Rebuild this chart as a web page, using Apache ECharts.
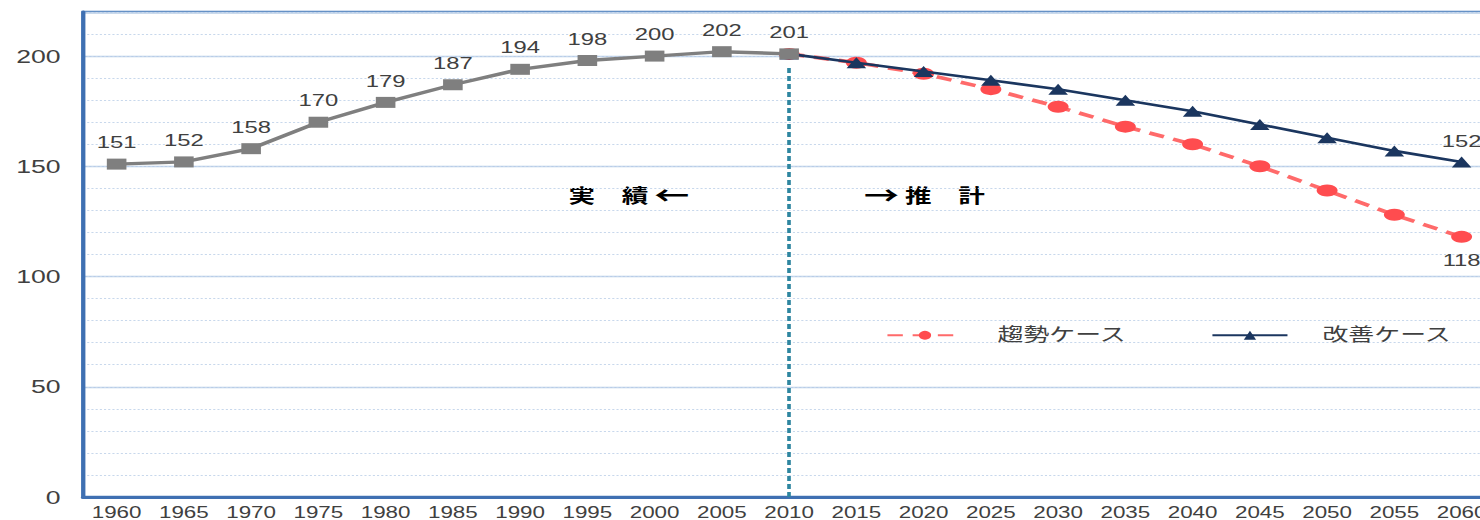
<!DOCTYPE html>
<html>
<head>
<meta charset="utf-8">
<script src="https://cdn.jsdelivr.net/npm/echarts@6/dist/echarts.min.js"></script>
<style>
  html, body { margin: 0; padding: 0; background: #ffffff; overflow: hidden; }
  #wrap { width: 1480px; height: 520px; overflow: hidden; }
  /* the chart is laid out narrow and widened horizontally */
  #chart { width: 1100px; height: 520px; transform-origin: 0 0; transform: scaleX(1.40019); }
</style>
</head>
<body>
<div id="wrap"><div id="chart"></div></div>
<script>
// years on the horizontal axis
const years = ['1960','1965','1970','1975','1980','1985','1990','1995','2000','2005','2010',
               '2015','2020','2025','2030','2035','2040','2045','2050','2055','2060'];

// recorded values 1960-2010
const actual = [151, 152, 158, 170, 179, 187, 194, 198, 200, 202, 201];

// projections 2010-2060
const trendCase   = [201, 197, 192, 185, 177, 168, 160, 150, 139, 128, 118];
const improveCase = [201, 197, 193, 189, 185, 180, 175, 169, 163, 157, 152];

const seriesNames = ['趨勢ケース', '改善ケース'];
const pastText = '実　績 {a|←}';
const futureText = '{a|→} 推　計';
const dividerYear = '2010';
const dividerTop = 195;

const FONT = '"Liberation Sans", "Noto Sans CJK JP", sans-serif';
const JP_FONT = '"Noto Sans CJK JP", sans-serif';
const TXT = '#404040';

const nPast = actual.length;
const pad = (arr, before) => Array(before).fill('-').concat(arr);

const actualData = actual.concat(Array(years.length - nPast).fill('-'));
const lastIdx = years.length - 1;

const withEndLabel = (arr, pos) => pad(arr, nPast - 1).map((v, i) =>
  i === lastIdx ? { value: v, label: { show: true, position: pos } } : v);

const chart = echarts.init(document.getElementById('chart'), null, { renderer: 'svg' });

const noteStyle = (text) => ({
  text: text,
  fontSize: 19, fontWeight: 'bold', fill: '#000000', fontFamily: JP_FONT,
  rich: { a: { fontSize: 25, fontWeight: 'bold', fill: '#000000', fontFamily: JP_FONT } }
});

chart.setOption({
  animation: false,
  backgroundColor: '#ffffff',
  textStyle: { fontFamily: FONT },
  grid: {
    left: 59.28, top: 12, width: 1008.6, height: 488,
    show: true, borderColor: '#4a7cbb', borderWidth: 2.4
  },
  legend: {
    left: 627.8, top: 321,
    itemWidth: 53.6, itemHeight: 11, itemGap: 60,
    data: seriesNames,
    formatter: '{t|{name}}',
    textStyle: {
      color: TXT, fontSize: 18, fontFamily: FONT,
      rich: { t: { fontSize: 18.5, color: TXT, padding: [0, 0, 0, 20], fontFamily: FONT } }
    }
  },
  xAxis: {
    type: 'category',
    data: years,
    boundaryGap: true,
    axisLine: { lineStyle: { color: '#3f70b2', width: 3 } },
    axisTick: { show: false },
    axisLabel: { color: TXT, fontSize: 16, margin: 7, interval: 0, fontFamily: FONT },
    splitLine: { show: false }
  },
  yAxis: [
    {
      type: 'value', min: 0, max: 220, interval: 50,
      axisLine: { show: true, lineStyle: { color: '#3f70b2', width: 3 } },
      axisTick: { show: false },
      axisLabel: {
        color: TXT, fontSize: 19, margin: 16, fontFamily: FONT,
        formatter: v => (v % 50 === 0 ? String(v) : '')
      },
      splitLine: { show: true, lineStyle: { color: '#b8cde8', width: 1.4 } }
    },
    {
      type: 'value', min: 0, max: 220, interval: 10,
      axisLine: { show: false }, axisTick: { show: false },
      axisLabel: { show: false },
      splitLine: { show: true, lineStyle: { color: '#c8d8ec', width: 1, type: [1.5, 1.5] } }
    }
  ],
  series: [
    {
      name: seriesNames[0],
      type: 'line',
      data: withEndLabel(trendCase, 'bottom'),
      symbol: 'circle',
      symbolSize: [15, 12],
      z: 3,
      lineStyle: { color: '#ff6a6a', width: 3.6, type: [11, 7] },
      itemStyle: { color: '#ff4c4f' },
      label: { show: false, color: TXT, fontSize: 17, distance: 8, fontFamily: FONT }
    },
    {
      name: seriesNames[1],
      type: 'line',
      data: withEndLabel(improveCase, 'top'),
      symbol: 'triangle',
      symbolSize: [14, 11],
      z: 4,
      lineStyle: { color: '#1b365f', width: 2.6 },
      itemStyle: { color: '#1b365f' },
      label: { show: false, color: TXT, fontSize: 17, distance: 7, fontFamily: FONT }
    },
    {
      name: '実績',
      type: 'line',
      data: actualData,
      symbol: 'rect',
      symbolSize: [14, 11],
      z: 5,
      lineStyle: { color: '#7f7f7f', width: 3.4 },
      itemStyle: { color: '#7f7f7f' },
      label: { show: true, position: 'top', color: TXT, fontSize: 17, distance: 8, fontFamily: FONT },
      markLine: {
        silent: true,
        symbol: 'none',
        z: 2,
        label: { show: false },
        lineStyle: { color: '#2e86a0', width: 2.6, type: [5, 3] },
        data: [[{ coord: [dividerYear, 0] }, { coord: [dividerYear, dividerTop] }]]
      }
    }
  ],
  graphic: [
    { type: 'text', left: 406, top: 182, style: noteStyle(pastText) },
    { type: 'text', left: 617, top: 182, style: noteStyle(futureText) }
  ]
});
</script>
</body>
</html>
